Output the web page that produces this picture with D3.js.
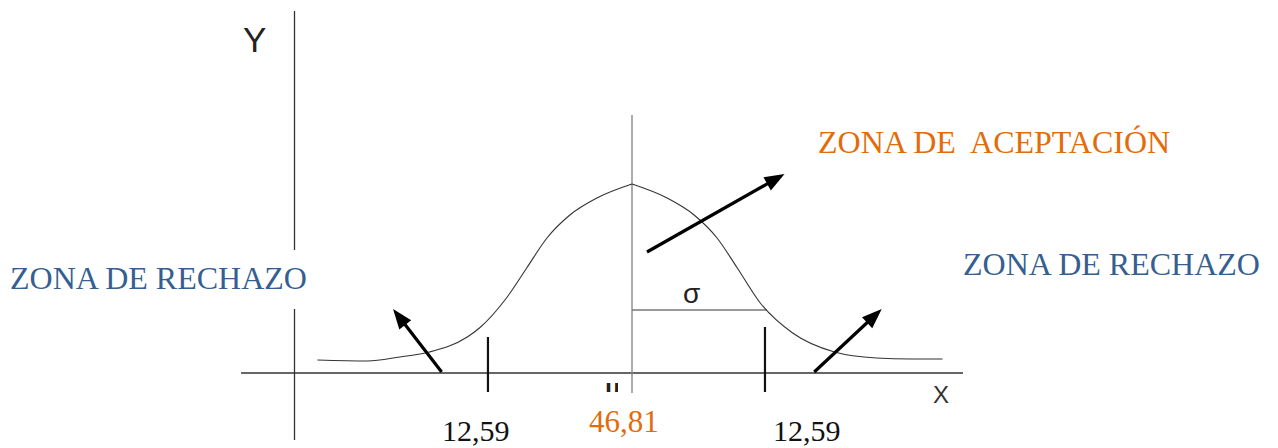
<!DOCTYPE html>
<html>
<head>
<meta charset="utf-8">
<title>Zona de aceptación</title>
<script src="https://cdn.jsdelivr.net/npm/d3@7"></script>
<style>
  * { margin: 0; padding: 0; }
  body { background: #fff; }
  #chart { width: 1278px; height: 448px; }
  .serif { font-family: "Liberation Serif", "Times New Roman", serif; }
  .sans { font-family: "Liberation Sans", Arial, sans-serif; }
</style>
</head>
<body>
<div id="chart"></div>
<script>
// bell curve (x in sigma units, y = height above the x axis)
var curveX = [-2.33, -1.96, -1.72, -1.50, -1.22, -1.13, -0.93, -0.78, -0.63, -0.46, -0.26, 0,
              0.26, 0.46, 0.63, 0.78, 0.95, 1.19, 1.50, 1.81, 2.07, 2.30];
var curveY = [13, 12, 16, 21, 36, 45, 75, 105, 135, 158, 175, 189,
              175, 158, 135, 105, 70, 40, 21, 15, 14, 14];

// critical values and mean
var critX = [-1.067, 0.985];
var critLabels = ['12,59', '12,59'];
var meanLabel = '46,81';
var zoneLabels = ['ZONA DE RECHAZO', 'ZONA DE  ACEPTACIÓN', 'ZONA DE RECHAZO'];

var W = 1278, H = 448;
var BLUE = '#365F91', ORANGE = '#E36C0A';

var svg = d3.select('#chart').append('svg')
    .attr('width', W)
    .attr('height', H);

// 1 sigma = 135px, mean at 632px; height 0 on the x axis (373px)
var x = d3.scaleLinear().domain([-3, 3]).range([632 - 405, 632 + 405]);
var y = d3.scaleLinear().domain([0, 200]).range([373, 173]);

var seg = function(x1, y1, x2, y2, color, width) {
  return svg.append('line')
      .attr('x1', x(x1)).attr('y1', y(y1))
      .attr('x2', x(x2)).attr('y2', y(y2))
      .attr('stroke', color)
      .attr('stroke-width', width);
};

// Y axis (broken where the left label sits)
seg(-2.5, 362, -2.5, 123, '#333', 1.3);
seg(-2.5, 64, -2.5, -67, '#333', 1.3);
// X axis
seg(-2.896, 0, 2.452, 0, '#333', 1.3);
// mean line and sigma
seg(0, 258, 0, -20, '#888', 1.4);
seg(0, 63, 1, 63, '#777', 1.3);

// critical value ticks
svg.selectAll('line.crit')
    .data(critX)
  .enter().append('line')
    .attr('class', 'crit')
    .attr('x1', function(d) { return x(d); })
    .attr('x2', function(d) { return x(d); })
    .attr('y1', function(d, i) { return y(i == 0 ? 36 : 46); })
    .attr('y2', y(-19))
    .attr('stroke', '#111')
    .attr('stroke-width', 2.2);

// the curve, two halves so the top keeps its little point
var pts = curveX.map(function(v, i) { return [v, curveY[i]]; });
var line = d3.line()
    .x(function(d) { return x(d[0]); })
    .y(function(d) { return y(d[1]); })
    .curve(d3.curveMonotoneX);
var halves = [pts.filter(function(p) { return p[0] <= 0; }),
              pts.filter(function(p) { return p[0] >= 0; })];
svg.selectAll('path.bell')
    .data(halves)
  .enter().append('path')
    .attr('class', 'bell')
    .attr('d', line)
    .attr('fill', 'none')
    .attr('stroke', '#333')
    .attr('stroke-width', 1.1);

// arrows
var arrows = [
  [0.111, 121, 1.13, 199],
  [-1.41, 1, -1.77, 64],
  [1.35, 1, 1.85, 64]
];
var headLen = 20, headW = 15;
arrows.forEach(function(a) {
  var x1 = x(a[0]), y1 = y(a[1]), x2 = x(a[2]), y2 = y(a[3]);
  var dx = x2 - x1, dy = y2 - y1, len = Math.sqrt(dx * dx + dy * dy);
  var ux = dx / len, uy = dy / len;
  var bx = x2 - ux * headLen, by = y2 - uy * headLen;
  svg.append('line')
      .attr('x1', x1).attr('y1', y1)
      .attr('x2', bx + ux * 2).attr('y2', by + uy * 2)
      .attr('stroke', '#000')
      .attr('stroke-width', 3.2);
  svg.append('path')
      .attr('d', 'M' + x2 + ',' + y2 +
                 'L' + (bx - uy * headW / 2) + ',' + (by + ux * headW / 2) +
                 'L' + (bx + uy * headW / 2) + ',' + (by - ux * headW / 2) + 'Z')
      .attr('fill', '#000');
});

// text
var label = function(txt, tx, ty, cls, size, color) {
  return svg.append('text')
      .attr('class', cls)
      .attr('x', x(tx))
      .attr('y', y(ty))
      .attr('font-size', size)
      .attr('fill', color)
      .style('white-space', 'pre')
      .text(txt);
};

label('Y', -2.881, 321, 'sans', 35, '#222');
label('X', 2.23, -30, 'sans', 24, '#333');
label('σ', 0.378, 70, 'sans', 28, '#222');

label(zoneLabels[0], -4.607, 84, 'serif', 32, BLUE);
label(zoneLabels[1], 1.378, 220, 'serif', 32, ORANGE);
label(zoneLabels[2], 2.452, 98, 'serif', 32, BLUE);

label(critLabels[0], -1.407, -68, 'serif', 30, '#111');
label(critLabels[1], 1.044, -68, 'serif', 30, '#111');
label(meanLabel, -0.319, -59, 'serif', 31, ORANGE);

// mu, clipped just under the axis like in the original
svg.append('clipPath').attr('id', 'muclip')
  .append('rect')
    .attr('x', x(-0.4)).attr('y', y(-8))
    .attr('width', 40).attr('height', 11);
label('μ', -0.2, -24, 'sans', 25, '#222')
    .attr('font-weight', 'bold')
    .attr('clip-path', 'url(#muclip)');
</script>
</body>
</html>
